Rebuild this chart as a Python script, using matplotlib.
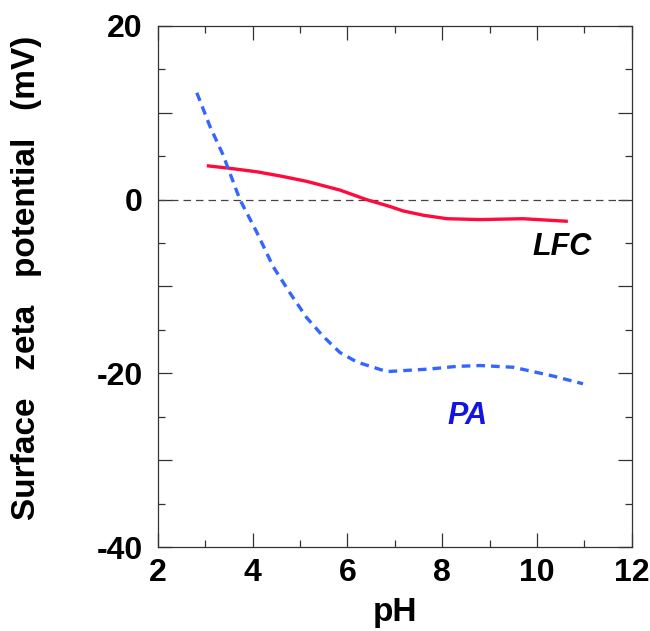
import matplotlib
matplotlib.use('Agg')
import matplotlib.pyplot as plt
from matplotlib.ticker import MultipleLocator, FuncFormatter

plt.rcParams['font.family'] = ['Liberation Sans', 'DejaVu Sans']
plt.rcParams['font.weight'] = 'bold'

# LFC curve (solid red)
lfc_ph = [3.03, 3.52, 4.09, 4.6, 5.14, 5.84, 6.4, 6.9, 7.17, 7.6, 8.1, 8.8, 9.7, 10.65]
lfc_zeta = [3.9, 3.6, 3.2, 2.7, 2.1, 1.1, 0.0, -0.8, -1.3, -1.8, -2.2, -2.3, -2.2, -2.5]

# PA curve (dashed blue)
pa_ph = [2.82, 3.10, 3.37, 3.73, 4.09, 4.43, 4.78, 5.14, 5.48, 5.84, 6.2, 6.83,
         7.74, 8.3, 8.8, 9.5, 10.33, 10.97]
pa_zeta = [12.3, 8.4, 5.2, 0.0, -3.8, -7.7, -10.7, -13.6, -15.7, -17.6, -18.7, -19.8,
           -19.5, -19.2, -19.1, -19.3, -20.3, -21.2]

fig = plt.figure(figsize=(6.5, 6.31), dpi=100)
ax = fig.add_axes([0.243, 0.133, 0.729, 0.826])

ax.axhline(0, color='#444444', lw=0.9, dashes=(6, 4))
ax.plot(lfc_ph, lfc_zeta, color='#ff0a3c', lw=2.4, solid_capstyle='butt')
ax.plot(pa_ph, pa_zeta, color='#3366ff', lw=2.4, dashes=(2.6, 1.8))

ax.text(10.52, -5.4, 'LFC', color='black', fontsize=22, fontstyle='italic',
        fontweight='bold', ha='center', va='center')
ax.text(8.54, -24.9, 'PA', color='#1414e0', fontsize=22, fontstyle='italic',
        fontweight='bold', ha='center', va='center')

ax.set_xlim(2, 12)
ax.set_ylim(-40, 20)
ax.xaxis.set_major_locator(MultipleLocator(2))
ax.xaxis.set_minor_locator(MultipleLocator(1))
ax.yaxis.set_major_locator(MultipleLocator(10))
ax.yaxis.set_minor_locator(MultipleLocator(5))
ax.yaxis.set_major_formatter(FuncFormatter(lambda v, p: '%d' % v if v % 20 == 0 else ''))
ax.tick_params(which='both', direction='in', top=True, right=True,
               labelsize=23, color='#333333', width=0.9)
ax.tick_params(which='major', length=10)
ax.tick_params(which='minor', length=5)
ax.tick_params(axis='y', which='major', pad=11)
ax.tick_params(axis='x', which='major', pad=8)
for s in ax.spines.values():
    s.set_linewidth(0.9)
    s.set_color('#333333')

ax.set_xlabel('pH', fontsize=24, fontweight='bold')
ax.xaxis.set_label_coords(0.5, -0.095)
ax.set_ylabel('Surface   zeta   potential   (mV)', fontsize=24, fontweight='bold')
ax.yaxis.set_label_coords(-0.245, 0.517)

fig.savefig('out.png', dpi=100)
